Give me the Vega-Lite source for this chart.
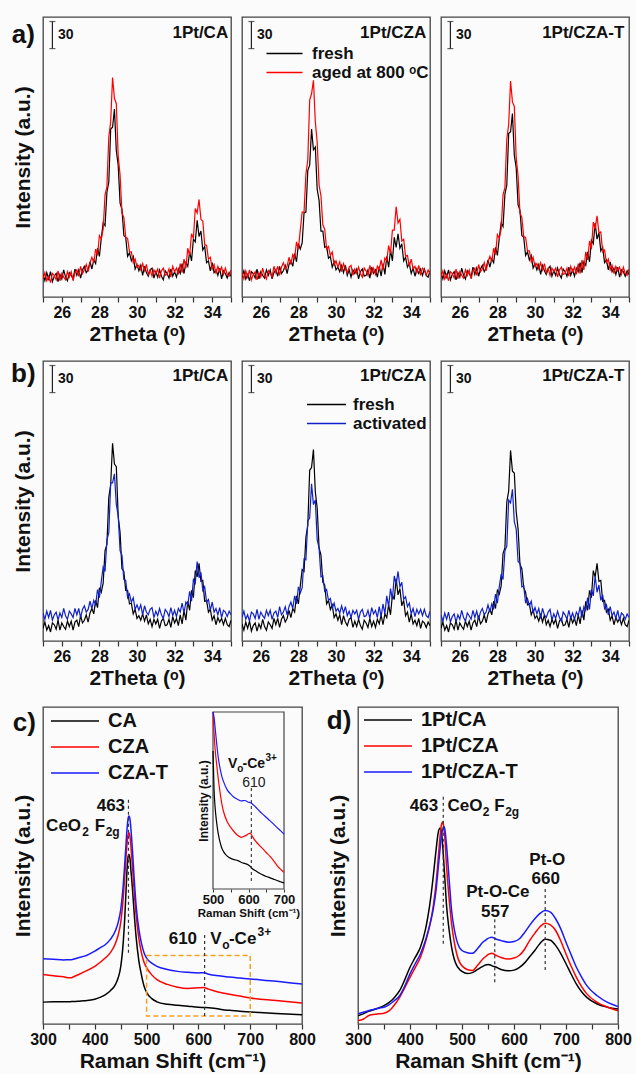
{
"$schema":"https://vega.github.io/schema/vega-lite/v6.json",
"background":"#fbfbfb",
"padding":{"left":10,"top":16,"right":4,"bottom":2},
"config":{"font":"Liberation Sans","view":{"stroke":"#444","strokeWidth":1.3},"axis":{"labelFontWeight":"bold","titleFontWeight":"bold","labelColor":"#111","titleColor":"#111","grid":false,"labelFont":"Liberation Sans","titleFont":"Liberation Sans"},"legend":{"labelFont":"Liberation Sans","padding":0}},
"datasets":{
"bar":[{"x":25.5,"y":275,"y2":305}],
"barcaps":[{"x":25.5,"y":275},{"x":25.5,"y":305}],
"barlabel":[{"x":25.8,"y":290,"t":"30"}],
"xrd":[
{"x":25,"a1k":25,"a1r":20,"a2k":22,"a2r":27,"a3k":27,"a3r":22,"b1k":14,"b1b":31,"b2k":19,"b2b":26,"b3k":14,"b3b":29},
{"x":25.1,"a1k":18,"a1r":27,"a2k":29,"a2r":20,"a3k":20,"a3r":29,"b1k":21,"b1b":24,"b2k":12,"b2b":33,"b3k":21,"b3b":22},
{"x":25.2,"a1k":27,"a1r":18,"a2k":20,"a2r":29,"a3k":29,"a3r":20,"b1k":12,"b1b":33,"b2k":21,"b2b":24,"b3k":12,"b3b":31},
{"x":25.3,"a1k":20,"a1r":23,"a2k":25,"a2r":22,"a3k":22,"a3r":25,"b1k":17,"b1b":26,"b2k":14,"b2b":29,"b3k":17,"b3b":24},
{"x":25.4,"a1k":28,"a1r":16,"a2k":18,"a2r":30,"a3k":30,"a3r":18,"b1k":10,"b1b":34,"b2k":22,"b2b":22,"b3k":10,"b3b":32},
{"x":25.5,"a1k":17,"a1r":26,"a2k":28,"a2r":19,"a3k":19,"a3r":28,"b1k":20,"b1b":23,"b2k":11,"b2b":32,"b3k":20,"b3b":21},
{"x":25.6,"a1k":23,"a1r":24,"a2k":26,"a2r":25,"a3k":25,"a3r":26,"b1k":18,"b1b":29,"b2k":17,"b2b":30,"b3k":18,"b3b":27},
{"x":25.7,"a1k":26,"a1r":19,"a2k":21,"a2r":28,"a3k":28,"a3r":21,"b1k":13,"b1b":32,"b2k":20,"b2b":25,"b3k":13,"b3b":30},
{"x":25.8,"a1k":17,"a1r":29,"a2k":31,"a2r":19,"a3k":19,"a3r":31,"b1k":23,"b1b":23,"b2k":11,"b2b":35,"b3k":23,"b3b":21},
{"x":25.9,"a1k":25,"a1r":18,"a2k":20,"a2r":27,"a3k":27,"a3r":20,"b1k":12,"b1b":31,"b2k":19,"b2b":24,"b3k":12,"b3b":29},
{"x":26,"a1k":20,"a1r":26,"a2k":28,"a2r":22,"a3k":22,"a3r":28,"b1k":20,"b1b":26,"b2k":14,"b2b":32,"b3k":20,"b3b":24},
{"x":26.1,"a1k":30,"a1r":22,"a2k":24,"a2r":32,"a3k":32,"a3r":24,"b1k":16,"b1b":36,"b2k":24,"b2b":28,"b3k":16,"b3b":34},
{"x":26.2,"a1k":22,"a1r":19,"a2k":21,"a2r":24,"a3k":24,"a3r":21,"b1k":13,"b1b":28,"b2k":16,"b2b":25,"b3k":13,"b3b":26},
{"x":26.3,"a1k":18,"a1r":28,"a2k":30,"a2r":20,"a3k":20,"a3r":30,"b1k":22,"b1b":24,"b2k":12,"b2b":34,"b3k":22,"b3b":22},
{"x":26.4,"a1k":27,"a1r":22,"a2k":24,"a2r":29,"a3k":29,"a3r":24,"b1k":16,"b1b":33,"b2k":21,"b2b":28,"b3k":16,"b3b":31},
{"x":26.5,"a1k":24,"a1r":28,"a2k":30,"a2r":26,"a3k":26,"a3r":30,"b1k":22,"b1b":30,"b2k":18,"b2b":34,"b3k":22,"b3b":28},
{"x":26.6,"a1k":20,"a1r":18,"a2k":20,"a2r":22,"a3k":22,"a3r":20,"b1k":12,"b1b":26,"b2k":14,"b2b":24,"b3k":12,"b3b":24},
{"x":26.7,"a1k":31,"a1r":27,"a2k":27,"a2r":34,"a3k":33,"a3r":29,"b1k":21,"b1b":36,"b2k":25,"b2b":31,"b3k":20,"b3b":34},
{"x":26.8,"a1k":24,"a1r":30,"a2k":30,"a2r":27,"a3k":25,"a3r":32,"b1k":23,"b1b":29,"b2k":18,"b2b":33,"b3k":23,"b3b":26},
{"x":26.9,"a1k":30,"a1r":23,"a2k":23,"a2r":34,"a3k":32,"a3r":24,"b1k":16,"b1b":36,"b2k":25,"b2b":26,"b3k":16,"b3b":33},
{"x":27,"a1k":21,"a1r":34,"a2k":34,"a2r":24,"a3k":23,"a3r":36,"b1k":28,"b1b":26,"b2k":15,"b2b":38,"b3k":28,"b3b":24},
{"x":27.1,"a1k":30,"a1r":26,"a2k":26,"a2r":33,"a3k":31,"a3r":28,"b1k":20,"b1b":35,"b2k":24,"b2b":29,"b3k":19,"b3b":32},
{"x":27.2,"a1k":34,"a1r":30,"a2k":29,"a2r":38,"a3k":35,"a3r":31,"b1k":23,"b1b":39,"b2k":28,"b2b":32,"b3k":22,"b3b":36},
{"x":27.3,"a1k":27,"a1r":36,"a2k":35,"a2r":31,"a3k":28,"a3r":38,"b1k":29,"b1b":32,"b2k":21,"b2b":38,"b3k":29,"b3b":29},
{"x":27.4,"a1k":30,"a1r":28,"a2k":26,"a2r":34,"a3k":32,"a3r":29,"b1k":21,"b1b":35,"b2k":25,"b2b":29,"b3k":20,"b3b":32},
{"x":27.5,"a1k":39,"a1r":38,"a2k":36,"a2r":44,"a3k":41,"a3r":39,"b1k":31,"b1b":44,"b2k":34,"b2b":38,"b3k":30,"b3b":40},
{"x":27.6,"a1k":31,"a1r":44,"a2k":40,"a2r":36,"a3k":33,"a3r":45,"b1k":36,"b1b":36,"b2k":26,"b2b":43,"b3k":35,"b3b":32},
{"x":27.7,"a1k":41,"a1r":38,"a2k":34,"a2r":47,"a3k":42,"a3r":39,"b1k":30,"b1b":45,"b2k":36,"b2b":36,"b3k":29,"b3b":41},
{"x":27.8,"a1k":37,"a1r":53,"a2k":48,"a2r":43,"a3k":38,"a3r":54,"b1k":45,"b1b":40,"b2k":32,"b2b":50,"b3k":44,"b3b":36},
{"x":27.9,"a1k":54,"a1r":46,"a2k":39,"a2r":61,"a3k":55,"a3r":47,"b1k":37,"b1b":57,"b2k":50,"b2b":41,"b3k":36,"b3b":52},
{"x":28,"a1k":45,"a1r":68,"a2k":59,"a2r":53,"a3k":46,"a3r":69,"b1k":59,"b1b":48,"b2k":41,"b2b":60,"b3k":57,"b3b":42},
{"x":28.1,"a1k":65,"a1r":64,"a2k":53,"a2r":74,"a3k":65,"a3r":65,"b1k":54,"b1b":66,"b2k":61,"b2b":53,"b3k":52,"b3b":60},
{"x":28.2,"a1k":82,"a1r":75,"a2k":60,"a2r":94,"a3k":82,"a3r":75,"b1k":64,"b1b":82,"b2k":79,"b2b":59,"b3k":61,"b3b":74},
{"x":28.3,"a1k":79,"a1r":113,"a2k":93,"a2r":94,"a3k":78,"a3r":113,"b1k":100,"b1b":77,"b2k":77,"b2b":91,"b3k":97,"b3b":68},
{"x":28.4,"a1k":116,"a1r":122,"a2k":94,"a2r":136,"a3k":114,"a3r":121,"b1k":107,"b1b":112,"b2k":115,"b2b":90,"b3k":103,"b3b":100},
{"x":28.5,"a1k":127,"a1r":177,"a2k":140,"a2r":152,"a3k":124,"a3r":175,"b1k":159,"b1b":120,"b2k":128,"b2b":133,"b3k":154,"b3b":105},
{"x":28.6,"a1k":186,"a1r":194,"a2k":146,"a2r":218,"a3k":181,"a3r":191,"b1k":173,"b1b":175,"b2k":189,"b2b":136,"b3k":166,"b3b":156},
{"x":28.7,"a1k":188,"a1r":243,"a2k":186,"a2r":225,"a3k":183,"a3r":239,"b1k":219,"b1b":175,"b2k":192,"b2b":174,"b3k":211,"b3b":153},
{"x":28.8,"a1k":208,"a1r":220,"a2k":163,"a2r":240,"a3k":203,"a3r":216,"b1k":196,"b1b":185,"b2k":212,"b2b":151,"b3k":188,"b3b":168},
{"x":28.9,"a1k":162,"a1r":214,"a2k":166,"a2r":194,"a3k":157,"a3r":211,"b1k":193,"b1b":151,"b2k":165,"b2b":156,"b3k":186,"b3b":132},
{"x":29,"a1k":146,"a1r":156,"a2k":119,"a2r":171,"a3k":143,"a3r":154,"b1k":138,"b1b":139,"b2k":147,"b2b":112,"b3k":143,"b3b":124},
{"x":29.1,"a1k":104,"a1r":135,"a2k":107,"a2r":124,"a3k":102,"a3r":134,"b1k":120,"b1b":100,"b2k":103,"b2b":103,"b3k":124,"b3b":88},
{"x":29.2,"a1k":97,"a1r":93,"a2k":73,"a2r":112,"a3k":96,"a3r":93,"b1k":80,"b1b":95,"b2k":95,"b2b":71,"b3k":85,"b3b":86},
{"x":29.3,"a1k":68,"a1r":88,"a2k":73,"a2r":80,"a3k":68,"a3r":88,"b1k":77,"b1b":68,"b2k":65,"b2b":72,"b3k":80,"b3b":60},
{"x":29.4,"a1k":66,"a1r":66,"a2k":55,"a2r":75,"a3k":66,"a3r":67,"b1k":56,"b1b":67,"b2k":62,"b2b":55,"b3k":59,"b3b":61},
{"x":29.5,"a1k":45,"a1r":65,"a2k":56,"a2r":53,"a3k":46,"a3r":66,"b1k":56,"b1b":48,"b2k":41,"b2b":57,"b3k":54,"b3b":42},
{"x":29.6,"a1k":49,"a1r":50,"a2k":43,"a2r":56,"a3k":50,"a3r":51,"b1k":41,"b1b":52,"b2k":45,"b2b":45,"b3k":40,"b3b":47},
{"x":29.7,"a1k":40,"a1r":50,"a2k":45,"a2r":46,"a3k":41,"a3r":51,"b1k":42,"b1b":43,"b2k":35,"b2b":47,"b3k":41,"b3b":39},
{"x":29.8,"a1k":45,"a1r":38,"a2k":33,"a2r":50,"a3k":46,"a3r":39,"b1k":30,"b1b":48,"b2k":40,"b2b":36,"b3k":29,"b3b":44},
{"x":29.9,"a1k":31,"a1r":42,"a2k":39,"a2r":36,"a3k":32,"a3r":44,"b1k":35,"b1b":35,"b2k":26,"b2b":42,"b3k":34,"b3b":31},
{"x":30,"a1k":36,"a1r":33,"a2k":30,"a2r":40,"a3k":37,"a3r":34,"b1k":25,"b1b":40,"b2k":30,"b2b":33,"b3k":25,"b3b":37},
{"x":30.1,"a1k":29,"a1r":35,"a2k":33,"a2r":33,"a3k":30,"a3r":37,"b1k":28,"b1b":34,"b2k":23,"b2b":36,"b3k":28,"b3b":30},
{"x":30.2,"a1k":35,"a1r":30,"a2k":28,"a2r":39,"a3k":36,"a3r":31,"b1k":23,"b1b":40,"b2k":29,"b2b":31,"b3k":22,"b3b":36},
{"x":30.3,"a1k":24,"a1r":37,"a2k":35,"a2r":28,"a3k":25,"a3r":38,"b1k":30,"b1b":29,"b2k":18,"b2b":39,"b3k":29,"b3b":25},
{"x":30.4,"a1k":34,"a1r":29,"a2k":27,"a2r":37,"a3k":35,"a3r":30,"b1k":22,"b1b":39,"b2k":28,"b2b":31,"b3k":21,"b3b":36},
{"x":30.5,"a1k":27,"a1r":36,"a2k":35,"a2r":31,"a3k":29,"a3r":37,"b1k":29,"b1b":32,"b2k":21,"b2b":38,"b3k":29,"b3b":29},
{"x":30.6,"a1k":23,"a1r":25,"a2k":24,"a2r":27,"a3k":25,"a3r":27,"b1k":19,"b1b":29,"b2k":17,"b2b":28,"b3k":18,"b3b":26},
{"x":30.7,"a1k":30,"a1r":30,"a2k":30,"a2r":33,"a3k":31,"a3r":32,"b1k":24,"b1b":35,"b2k":24,"b2b":33,"b3k":23,"b3b":32},
{"x":30.8,"a1k":32,"a1r":23,"a2k":22,"a2r":35,"a3k":34,"a3r":24,"b1k":16,"b1b":37,"b2k":26,"b2b":26,"b3k":16,"b3b":35},
{"x":30.9,"a1k":21,"a1r":30,"a2k":30,"a2r":24,"a3k":23,"a3r":32,"b1k":24,"b1b":26,"b2k":15,"b2b":34,"b3k":24,"b3b":23},
{"x":31,"a1k":28,"a1r":26,"a2k":26,"a2r":31,"a3k":29,"a3r":28,"b1k":19,"b1b":33,"b2k":22,"b2b":30,"b3k":19,"b3b":30},
{"x":31.1,"a1k":22,"a1r":31,"a2k":31,"a2r":26,"a3k":24,"a3r":32,"b1k":24,"b1b":28,"b2k":16,"b2b":34,"b3k":24,"b3b":25},
{"x":31.2,"a1k":30,"a1r":21,"a2k":20,"a2r":33,"a3k":32,"a3r":22,"b1k":14,"b1b":36,"b2k":24,"b2b":24,"b3k":14,"b3b":33},
{"x":31.3,"a1k":23,"a1r":29,"a2k":28,"a2r":26,"a3k":25,"a3r":30,"b1k":22,"b1b":29,"b2k":17,"b2b":32,"b3k":22,"b3b":26},
{"x":31.4,"a1k":19,"a1r":32,"a2k":31,"a2r":22,"a3k":21,"a3r":33,"b1k":25,"b1b":25,"b2k":13,"b2b":35,"b3k":25,"b3b":22},
{"x":31.5,"a1k":29,"a1r":24,"a2k":23,"a2r":32,"a3k":31,"a3r":25,"b1k":17,"b1b":35,"b2k":23,"b2b":27,"b3k":17,"b3b":32},
{"x":31.6,"a1k":26,"a1r":25,"a2k":24,"a2r":29,"a3k":28,"a3r":26,"b1k":18,"b1b":32,"b2k":20,"b2b":28,"b3k":18,"b3b":29},
{"x":31.7,"a1k":21,"a1r":31,"a2k":30,"a2r":24,"a3k":23,"a3r":32,"b1k":24,"b1b":27,"b2k":15,"b2b":34,"b3k":24,"b3b":24},
{"x":31.8,"a1k":31,"a1r":22,"a2k":21,"a2r":35,"a3k":33,"a3r":23,"b1k":15,"b1b":37,"b2k":25,"b2b":25,"b3k":15,"b3b":34},
{"x":31.9,"a1k":23,"a1r":34,"a2k":33,"a2r":26,"a3k":24,"a3r":34,"b1k":27,"b1b":28,"b2k":16,"b2b":37,"b3k":27,"b3b":25},
{"x":32,"a1k":28,"a1r":28,"a2k":26,"a2r":32,"a3k":30,"a3r":28,"b1k":20,"b1b":34,"b2k":22,"b2b":30,"b3k":20,"b3b":31},
{"x":32.1,"a1k":22,"a1r":32,"a2k":30,"a2r":25,"a3k":23,"a3r":33,"b1k":25,"b1b":27,"b2k":15,"b2b":34,"b3k":25,"b3b":24},
{"x":32.2,"a1k":31,"a1r":25,"a2k":22,"a2r":34,"a3k":32,"a3r":25,"b1k":17,"b1b":36,"b2k":24,"b2b":26,"b3k":17,"b3b":32},
{"x":32.3,"a1k":26,"a1r":37,"a2k":34,"a2r":30,"a3k":28,"a3r":37,"b1k":29,"b1b":32,"b2k":19,"b2b":38,"b3k":29,"b3b":28},
{"x":32.4,"a1k":37,"a1r":27,"a2k":23,"a2r":41,"a3k":38,"a3r":26,"b1k":19,"b1b":42,"b2k":29,"b2b":27,"b3k":19,"b3b":38},
{"x":32.5,"a1k":26,"a1r":42,"a2k":37,"a2r":30,"a3k":27,"a3r":41,"b1k":34,"b1b":31,"b2k":18,"b2b":41,"b3k":34,"b3b":26},
{"x":32.6,"a1k":38,"a1r":32,"a2k":25,"a2r":43,"a3k":39,"a3r":30,"b1k":23,"b1b":43,"b2k":30,"b2b":30,"b3k":23,"b3b":38},
{"x":32.7,"a1k":34,"a1r":54,"a2k":45,"a2r":40,"a3k":35,"a3r":50,"b1k":44,"b1b":40,"b2k":26,"b2b":50,"b3k":44,"b3b":34},
{"x":32.8,"a1k":50,"a1r":46,"a2k":33,"a2r":57,"a3k":50,"a3r":41,"b1k":34,"b1b":55,"b2k":40,"b2b":38,"b3k":34,"b3b":48},
{"x":32.9,"a1k":40,"a1r":70,"a2k":52,"a2r":48,"a3k":39,"a3r":62,"b1k":56,"b1b":44,"b2k":29,"b2b":58,"b3k":56,"b3b":35},
{"x":33,"a1k":64,"a1r":65,"a2k":40,"a2r":74,"a3k":63,"a3r":53,"b1k":48,"b1b":68,"b2k":51,"b2b":46,"b3k":48,"b3b":57},
{"x":33.1,"a1k":61,"a1r":98,"a2k":66,"a2r":74,"a3k":59,"a3r":83,"b1k":78,"b1b":64,"b2k":46,"b2b":72,"b3k":78,"b3b":50},
{"x":33.2,"a1k":85,"a1r":93,"a2k":55,"a2r":100,"a3k":82,"a3r":75,"b1k":71,"b1b":88,"b2k":69,"b2b":62,"b3k":71,"b3b":72},
{"x":33.3,"a1k":67,"a1r":108,"a2k":70,"a2r":82,"a3k":64,"a3r":90,"b1k":86,"b1b":70,"b2k":51,"b2b":77,"b3k":86,"b3b":54},
{"x":33.4,"a1k":73,"a1r":86,"a2k":54,"a2r":86,"a3k":71,"a3r":71,"b1k":66,"b1b":76,"b2k":58,"b2b":60,"b3k":66,"b3b":62},
{"x":33.5,"a1k":52,"a1r":84,"a2k":59,"a2r":62,"a3k":51,"a3r":72,"b1k":67,"b1b":56,"b2k":39,"b2b":65,"b3k":67,"b3b":45},
{"x":33.6,"a1k":56,"a1r":58,"a2k":40,"a2r":64,"a3k":55,"a3r":50,"b1k":44,"b1b":60,"b2k":45,"b2b":46,"b3k":44,"b3b":51},
{"x":33.7,"a1k":38,"a1r":57,"a2k":44,"a2r":45,"a3k":38,"a3r":52,"b1k":45,"b1b":43,"b2k":28,"b2b":49,"b3k":45,"b3b":36},
{"x":33.8,"a1k":40,"a1r":42,"a2k":33,"a2r":46,"a3k":41,"a3r":38,"b1k":32,"b1b":46,"b2k":32,"b2b":38,"b3k":32,"b3b":40},
{"x":33.9,"a1k":29,"a1r":44,"a2k":37,"a2r":34,"a3k":30,"a3r":42,"b1k":35,"b1b":34,"b2k":21,"b2b":42,"b3k":35,"b3b":29},
{"x":34,"a1k":38,"a1r":31,"a2k":26,"a2r":42,"a3k":39,"a3r":30,"b1k":23,"b1b":43,"b2k":30,"b2b":30,"b3k":23,"b3b":38},
{"x":34.1,"a1k":27,"a1r":36,"a2k":32,"a2r":31,"a3k":28,"a3r":35,"b1k":28,"b1b":32,"b2k":19,"b2b":36,"b3k":28,"b3b":28},
{"x":34.2,"a1k":30,"a1r":26,"a2k":23,"a2r":34,"a3k":32,"a3r":26,"b1k":18,"b1b":36,"b2k":23,"b2b":27,"b3k":18,"b3b":32},
{"x":34.3,"a1k":24,"a1r":34,"a2k":31,"a2r":27,"a3k":25,"a3r":34,"b1k":26,"b1b":29,"b2k":17,"b2b":35,"b3k":26,"b3b":25},
{"x":34.4,"a1k":32,"a1r":28,"a2k":26,"a2r":35,"a3k":33,"a3r":29,"b1k":21,"b1b":37,"b2k":25,"b2b":30,"b3k":21,"b3b":34},
{"x":34.5,"a1k":20,"a1r":33,"a2k":31,"a2r":24,"a3k":22,"a3r":33,"b1k":25,"b1b":26,"b2k":14,"b2b":35,"b3k":25,"b3b":23},
{"x":34.6,"a1k":29,"a1r":25,"a2k":24,"a2r":32,"a3k":30,"a3r":25,"b1k":18,"b1b":34,"b2k":22,"b2b":28,"b3k":18,"b3b":31},
{"x":34.7,"a1k":26,"a1r":32,"a2k":31,"a2r":30,"a3k":28,"a3r":33,"b1k":25,"b1b":32,"b2k":20,"b2b":35,"b3k":25,"b3b":29},
{"x":34.8,"a1k":21,"a1r":25,"a2k":24,"a2r":24,"a3k":23,"a3r":26,"b1k":18,"b1b":27,"b2k":15,"b2b":28,"b3k":18,"b3b":24},
{"x":34.9,"a1k":27,"a1r":23,"a2k":22,"a2r":30,"a3k":29,"a3r":24,"b1k":16,"b1b":33,"b2k":21,"b2b":26,"b3k":16,"b3b":30},
{"x":35,"a1k":23,"a1r":30,"a2k":29,"a2r":26,"a3k":25,"a3r":31,"b1k":23,"b1b":29,"b2k":17,"b2b":33,"b3k":23,"b3b":26}
],
"ramanC":[
{"x":300,"CA":6.9,"CZA":15.6,"CZA-T":20.6},{"x":320,"CA":7,"CZA":15.2,"CZA-T":20.4},{"x":340,"CA":7,"CZA":14.9,"CZA-T":20.2},{"x":350,"CA":7,"CZA":14.6,"CZA-T":20.3},{"x":355,"CA":7.1,"CZA":14.6,"CZA-T":20.3},{"x":360,"CA":7.1,"CZA":15,"CZA-T":20.5},{"x":370,"CA":7.2,"CZA":15.7,"CZA-T":21},{"x":380,"CA":7.3,"CZA":16.5,"CZA-T":21.4},{"x":400,"CA":7.8,"CZA":18.2,"CZA-T":23},{"x":410,"CA":8.4,"CZA":19.4,"CZA-T":24},{"x":420,"CA":9.2,"CZA":20.8,"CZA-T":25},{"x":430,"CA":10.5,"CZA":22.5,"CZA-T":26.7},{"x":440,"CA":12.5,"CZA":25.5,"CZA-T":29.5},{"x":445,"CA":14.5,"CZA":28,"CZA-T":32},{"x":450,"CA":18,"CZA":32,"CZA-T":36},{"x":455,"CA":26,"CZA":40,"CZA-T":44},{"x":458,"CA":34,"CZA":47,"CZA-T":51},{"x":460,"CA":41,"CZA":52,"CZA-T":56},{"x":462,"CA":48,"CZA":56.5,"CZA-T":61},{"x":464,"CA":52.5,"CZA":59.5,"CZA-T":64.5},{"x":466,"CA":53.5,"CZA":60.3,"CZA-T":65.6},{"x":468,"CA":52,"CZA":59,"CZA-T":64.5},{"x":470,"CA":48,"CZA":55.5,"CZA-T":61},{"x":473,"CA":42,"CZA":49,"CZA-T":54},{"x":476,"CA":35,"CZA":42,"CZA-T":46},{"x":480,"CA":27,"CZA":34,"CZA-T":37},{"x":485,"CA":20,"CZA":27,"CZA-T":30},{"x":490,"CA":15.5,"CZA":22.5,"CZA-T":25.5},{"x":495,"CA":12,"CZA":19.5,"CZA-T":22.5},{"x":500,"CA":10,"CZA":17.8,"CZA-T":20.8},{"x":510,"CA":8,"CZA":15.5,"CZA-T":19.2},{"x":520,"CA":7,"CZA":14,"CZA-T":18.2},{"x":540,"CA":6.2,"CZA":12.5,"CZA-T":17.2},{"x":560,"CA":5.9,"CZA":11.6,"CZA-T":16.6},{"x":580,"CA":5.6,"CZA":11.2,"CZA-T":16.3},{"x":600,"CA":5.3,"CZA":11.4,"CZA-T":16.1},{"x":610,"CA":5.2,"CZA":11.5,"CZA-T":16.2},{"x":620,"CA":5.1,"CZA":11,"CZA-T":15.7},{"x":640,"CA":4.7,"CZA":10,"CZA-T":15.2},{"x":650,"CA":4.4,"CZA":9.7,"CZA-T":15},{"x":660,"CA":4.3,"CZA":9.4,"CZA-T":14.8},{"x":680,"CA":4,"CZA":8.8,"CZA-T":14.5},{"x":700,"CA":3.8,"CZA":8.2,"CZA-T":14.2},{"x":750,"CA":3.3,"CZA":7.4,"CZA-T":13.5},{"x":800,"CA":2.9,"CZA":6.6,"CZA-T":12.6}
],
"inset":[
{"x":500,"CA":78,"CZA":100,"CZA-T":100},{"x":503,"CA":56,"CZA":88,"CZA-T":97},{"x":506,"CA":46,"CZA":79,"CZA-T":91},{"x":510,"CA":38,"CZA":71,"CZA-T":83},{"x":515,"CA":31,"CZA":62,"CZA-T":74},{"x":520,"CA":26.3,"CZA":54.5,"CZA-T":68},{"x":525,"CA":23,"CZA":48,"CZA-T":63.5},{"x":530,"CA":21,"CZA":43.5,"CZA-T":60.5},{"x":540,"CA":18.6,"CZA":38,"CZA-T":56},{"x":550,"CA":17.3,"CZA":34.8,"CZA-T":53.6},{"x":560,"CA":16.6,"CZA":32.2,"CZA-T":51.7},{"x":570,"CA":16,"CZA":30.2,"CZA-T":50.6},{"x":580,"CA":15,"CZA":29.2,"CZA-T":49.8},{"x":590,"CA":14.4,"CZA":30,"CZA-T":50},{"x":600,"CA":13.6,"CZA":31.2,"CZA-T":49},{"x":605,"CA":12.8,"CZA":31.6,"CZA-T":48.8},{"x":610,"CA":11.6,"CZA":30,"CZA-T":48.2},{"x":620,"CA":10.3,"CZA":27,"CZA-T":46.3},{"x":630,"CA":9,"CZA":24.8,"CZA-T":44.2},{"x":640,"CA":8,"CZA":22.8,"CZA-T":42.3},{"x":650,"CA":7.1,"CZA":20.6,"CZA-T":40.5},{"x":660,"CA":6.4,"CZA":18.6,"CZA-T":38.6},{"x":670,"CA":5.6,"CZA":16.2,"CZA-T":36.8},{"x":680,"CA":4.8,"CZA":13.4,"CZA-T":34.8},{"x":690,"CA":4.1,"CZA":11.2,"CZA-T":33},{"x":700,"CA":3.4,"CZA":9.4,"CZA-T":31}
],
"ramanD":[
{"x":300,"1Pt/CA":2.6,"1Pt/CZA":1.1,"1Pt/CZA-T":3.2},{"x":310,"1Pt/CA":3.2,"1Pt/CZA":1.5,"1Pt/CZA-T":3.7},{"x":320,"1Pt/CA":4,"1Pt/CZA":2.6,"1Pt/CZA-T":4.2},{"x":330,"1Pt/CA":4.5,"1Pt/CZA":3,"1Pt/CZA-T":4.6},{"x":335,"1Pt/CA":4.8,"1Pt/CZA":3.1,"1Pt/CZA-T":4.8},{"x":340,"1Pt/CA":5.1,"1Pt/CZA":3.2,"1Pt/CZA-T":5},{"x":350,"1Pt/CA":5.8,"1Pt/CZA":3.4,"1Pt/CZA-T":5.3},{"x":360,"1Pt/CA":6.8,"1Pt/CZA":4.2,"1Pt/CZA-T":6.1},{"x":365,"1Pt/CA":7.5,"1Pt/CZA":5,"1Pt/CZA-T":6.7},{"x":370,"1Pt/CA":8.4,"1Pt/CZA":6,"1Pt/CZA-T":7.4},{"x":380,"1Pt/CA":10.5,"1Pt/CZA":8.4,"1Pt/CZA-T":8.9},{"x":390,"1Pt/CA":14,"1Pt/CZA":11.5,"1Pt/CZA-T":12},{"x":400,"1Pt/CA":17.9,"1Pt/CZA":14.7,"1Pt/CZA-T":15.8},{"x":410,"1Pt/CA":21,"1Pt/CZA":17.8,"1Pt/CZA-T":19},{"x":420,"1Pt/CA":24.2,"1Pt/CZA":21,"1Pt/CZA-T":22.1},{"x":430,"1Pt/CA":30,"1Pt/CZA":26,"1Pt/CZA-T":26.5},{"x":440,"1Pt/CA":40,"1Pt/CZA":32.6,"1Pt/CZA-T":32.6},{"x":445,"1Pt/CA":47,"1Pt/CZA":37.5,"1Pt/CZA-T":36.5},{"x":450,"1Pt/CA":54.7,"1Pt/CZA":44.2,"1Pt/CZA-T":42.1},{"x":455,"1Pt/CA":61,"1Pt/CZA":53.7,"1Pt/CZA-T":50.5},{"x":458,"1Pt/CA":61.8,"1Pt/CZA":59.5,"1Pt/CZA-T":55.5},{"x":460,"1Pt/CA":61,"1Pt/CZA":62.5,"1Pt/CZA-T":58.9},{"x":463,"1Pt/CA":56,"1Pt/CZA":63.7,"1Pt/CZA-T":61.5},{"x":465,"1Pt/CA":51,"1Pt/CZA":62,"1Pt/CZA-T":62.3},{"x":467,"1Pt/CA":46,"1Pt/CZA":58.9,"1Pt/CZA-T":61.5},{"x":470,"1Pt/CA":37.9,"1Pt/CZA":50.5,"1Pt/CZA-T":56.8},{"x":475,"1Pt/CA":30,"1Pt/CZA":40,"1Pt/CZA-T":46.3},{"x":480,"1Pt/CA":24.2,"1Pt/CZA":31.6,"1Pt/CZA-T":35.8},{"x":485,"1Pt/CA":20.5,"1Pt/CZA":26,"1Pt/CZA-T":30},{"x":490,"1Pt/CA":18.4,"1Pt/CZA":22,"1Pt/CZA-T":26.3},{"x":495,"1Pt/CA":17.3,"1Pt/CZA":19.6,"1Pt/CZA-T":24.2},{"x":500,"1Pt/CA":16.6,"1Pt/CZA":18.4,"1Pt/CZA-T":23.2},{"x":510,"1Pt/CA":15.9,"1Pt/CZA":17.2,"1Pt/CZA-T":22.5},{"x":520,"1Pt/CA":16.2,"1Pt/CZA":16.9,"1Pt/CZA-T":22.3},{"x":530,"1Pt/CA":17.2,"1Pt/CZA":18.5,"1Pt/CZA-T":23.8},{"x":540,"1Pt/CA":18.2,"1Pt/CZA":20.5,"1Pt/CZA-T":25.8},{"x":545,"1Pt/CA":18.6,"1Pt/CZA":21.2,"1Pt/CZA-T":26.4},{"x":550,"1Pt/CA":18.8,"1Pt/CZA":21.9,"1Pt/CZA-T":27},{"x":555,"1Pt/CA":18.6,"1Pt/CZA":22.2,"1Pt/CZA-T":27.3},{"x":557,"1Pt/CA":18.4,"1Pt/CZA":22.3,"1Pt/CZA-T":27.4},{"x":565,"1Pt/CA":18,"1Pt/CZA":21.7,"1Pt/CZA-T":26.8},{"x":575,"1Pt/CA":17.2,"1Pt/CZA":21,"1Pt/CZA-T":26.3},{"x":590,"1Pt/CA":16.8,"1Pt/CZA":20.5,"1Pt/CZA-T":25.8},{"x":600,"1Pt/CA":17,"1Pt/CZA":20.8,"1Pt/CZA-T":26},{"x":610,"1Pt/CA":17.8,"1Pt/CZA":21.6,"1Pt/CZA-T":26.8},{"x":620,"1Pt/CA":19.2,"1Pt/CZA":23.5,"1Pt/CZA-T":28.8},{"x":630,"1Pt/CA":21.2,"1Pt/CZA":26.3,"1Pt/CZA-T":31.1},{"x":640,"1Pt/CA":23.2,"1Pt/CZA":28.6,"1Pt/CZA-T":33.2},{"x":650,"1Pt/CA":25.4,"1Pt/CZA":30.7,"1Pt/CZA-T":34.9},{"x":660,"1Pt/CA":26.7,"1Pt/CZA":31.8,"1Pt/CZA-T":35.8},{"x":670,"1Pt/CA":26.4,"1Pt/CZA":31.3,"1Pt/CZA-T":35.3},{"x":680,"1Pt/CA":24.8,"1Pt/CZA":29.5,"1Pt/CZA-T":33.2},{"x":690,"1Pt/CA":22.2,"1Pt/CZA":26.2,"1Pt/CZA-T":30},{"x":700,"1Pt/CA":19,"1Pt/CZA":22.1,"1Pt/CZA-T":25.8},{"x":710,"1Pt/CA":15.7,"1Pt/CZA":18.2,"1Pt/CZA-T":21.8},{"x":720,"1Pt/CA":12.6,"1Pt/CZA":14.7,"1Pt/CZA-T":17.9},{"x":730,"1Pt/CA":10.2,"1Pt/CZA":11.8,"1Pt/CZA-T":14.8},{"x":740,"1Pt/CA":8.4,"1Pt/CZA":9.5,"1Pt/CZA-T":12.1},{"x":760,"1Pt/CA":6.3,"1Pt/CZA":6.8,"1Pt/CZA-T":8.9},{"x":780,"1Pt/CA":5.3,"1Pt/CZA":5.3,"1Pt/CZA-T":6.8},{"x":800,"1Pt/CA":4.7,"1Pt/CZA":4.2,"1Pt/CZA-T":5.5}
]
},
"vconcat":[
{"vconcat":[
{"hconcat":[
{"width":188,"height":280,
"encoding":{"x":{"field":"x","type":"quantitative","scale":{"domain":[25,35],"nice":false,"zero":false},"axis":{"title":"2Theta (ᵒ)","values":[25,26,27,28,29,30,31,32,33,34,35],"labelExpr":"datum.value % 2 == 0 ? datum.label : ''","labelFontSize":16,"labelOverlap":false,"labelFlush":false,"labelPadding":2,"tickSize":5,"tickWidth":1.2,"tickColor":"#333","domain":false,"titleFontSize":21,"titlePadding":3}},
"y":{"field":"y","type":"quantitative","scale":{"domain":[0,310],"nice":false,"zero":false},"axis":{"title":"Intensity (a.u.)","labels":false,"ticks":false,"domain":false,"titleFontSize":21,"titlePadding":10}}},
"layer":[
{"data":{"name":"xrd"},"transform":[{"fold":["a1k","a1r"],"as":["s","y"]}],"mark":{"type":"line","strokeWidth":1.2,"clip":true},"encoding":{"color":{"field":"s","type":"nominal","scale":{"domain":["a1k","a1r"],"range":["#000000","#ff0000"]},"legend":null}}},
{"data":{"name":"bar"},"mark":{"type":"rule","color":"#222","strokeWidth":1.2},"encoding":{"y2":{"field":"y2"}}},
{"data":{"name":"barcaps"},"mark":{"type":"tick","orient":"horizontal","size":6,"thickness":1.2,"color":"#222"}},
{"data":{"name":"barlabel"},"mark":{"type":"text","align":"left","baseline":"middle","fontSize":14,"fontWeight":"bold","color":"#111"},"encoding":{"text":{"field":"t"}}},
{"data":{"values":[{"x":34.85,"y":292,"t":"1Pt/CA"}]},"mark":{"type":"text","align":"right","baseline":"middle","fontSize":17,"fontWeight":"bold","color":"#111"},"encoding":{"text":{"field":"t"}}},
{"data":{"values":[{"x":23.95,"y":290,"t":"a)"}]},"mark":{"type":"text","align":"center","baseline":"middle","fontSize":26,"fontWeight":"bold","color":"#111"},"encoding":{"text":{"field":"t"}}}
]},
{"width":188,"height":280,
"encoding":{"x":{"field":"x","type":"quantitative","scale":{"domain":[25,35],"nice":false,"zero":false},"axis":{"title":"2Theta (ᵒ)","values":[25,26,27,28,29,30,31,32,33,34,35],"labelExpr":"datum.value % 2 == 0 ? datum.label : ''","labelFontSize":16,"labelOverlap":false,"labelFlush":false,"labelPadding":2,"tickSize":5,"tickWidth":1.2,"tickColor":"#333","domain":false,"titleFontSize":21,"titlePadding":3}},
"y":{"field":"y","type":"quantitative","scale":{"domain":[0,310],"nice":false,"zero":false},"axis":null}},
"layer":[
{"data":{"name":"xrd"},"transform":[{"fold":["a2k","a2r"],"as":["s","y"]}],"mark":{"type":"line","strokeWidth":1.2,"clip":true},"encoding":{"color":{"field":"s","type":"nominal","scale":{"domain":["a2k","a2r"],"range":["#000000","#ff0000"]},"legend":{"orient":"none","legendX":34,"legendY":28,"title":null,"symbolType":"M-3,0H3","symbolSize":144,"symbolStrokeWidth":1.5,"labelFontSize":17,"labelFontWeight":"bold","labelColor":"#111","labelOffset":19,"rowPadding":1,"labelExpr":"datum.value == 'a2k' ? 'fresh' : 'aged at 800 ᵒC'"}}}},
{"data":{"name":"bar"},"mark":{"type":"rule","color":"#222","strokeWidth":1.2},"encoding":{"y2":{"field":"y2"}}},
{"data":{"name":"barcaps"},"mark":{"type":"tick","orient":"horizontal","size":6,"thickness":1.2,"color":"#222"}},
{"data":{"name":"barlabel"},"mark":{"type":"text","align":"left","baseline":"middle","fontSize":14,"fontWeight":"bold","color":"#111"},"encoding":{"text":{"field":"t"}}},
{"data":{"values":[{"x":34.8,"y":292,"t":"1Pt/CZA"}]},"mark":{"type":"text","align":"right","baseline":"middle","fontSize":17,"fontWeight":"bold","color":"#111"},"encoding":{"text":{"field":"t"}}}
]},
{"width":188,"height":280,
"encoding":{"x":{"field":"x","type":"quantitative","scale":{"domain":[25,35],"nice":false,"zero":false},"axis":{"title":"2Theta (ᵒ)","values":[25,26,27,28,29,30,31,32,33,34,35],"labelExpr":"datum.value % 2 == 0 ? datum.label : ''","labelFontSize":16,"labelOverlap":false,"labelFlush":false,"labelPadding":2,"tickSize":5,"tickWidth":1.2,"tickColor":"#333","domain":false,"titleFontSize":21,"titlePadding":3}},
"y":{"field":"y","type":"quantitative","scale":{"domain":[0,310],"nice":false,"zero":false},"axis":null}},
"layer":[
{"data":{"name":"xrd"},"transform":[{"fold":["a3k","a3r"],"as":["s","y"]}],"mark":{"type":"line","strokeWidth":1.2,"clip":true},"encoding":{"color":{"field":"s","type":"nominal","scale":{"domain":["a3k","a3r"],"range":["#000000","#ff0000"]},"legend":null}}},
{"data":{"name":"bar"},"mark":{"type":"rule","color":"#222","strokeWidth":1.2},"encoding":{"y2":{"field":"y2"}}},
{"data":{"name":"barcaps"},"mark":{"type":"tick","orient":"horizontal","size":6,"thickness":1.2,"color":"#222"}},
{"data":{"name":"barlabel"},"mark":{"type":"text","align":"left","baseline":"middle","fontSize":14,"fontWeight":"bold","color":"#111"},"encoding":{"text":{"field":"t"}}},
{"data":{"values":[{"x":34.75,"y":292,"t":"1Pt/CZA-T"}]},"mark":{"type":"text","align":"right","baseline":"middle","fontSize":17,"fontWeight":"bold","color":"#111"},"encoding":{"text":{"field":"t"}}}
]}
],"spacing":7,"resolve":{"scale":{"color":"independent"},"legend":{"color":"independent"}}},
{"hconcat":[
{"width":188,"height":280,
"encoding":{"x":{"field":"x","type":"quantitative","scale":{"domain":[25,35],"nice":false,"zero":false},"axis":{"title":"2Theta (ᵒ)","values":[25,26,27,28,29,30,31,32,33,34,35],"labelExpr":"datum.value % 2 == 0 ? datum.label : ''","labelFontSize":16,"labelOverlap":false,"labelFlush":false,"labelPadding":2,"tickSize":5,"tickWidth":1.2,"tickColor":"#333","domain":false,"titleFontSize":21,"titlePadding":3}},
"y":{"field":"y","type":"quantitative","scale":{"domain":[0,310],"nice":false,"zero":false},"axis":{"title":"Intensity (a.u.)","labels":false,"ticks":false,"domain":false,"titleFontSize":21,"titlePadding":10}}},
"layer":[
{"data":{"name":"xrd"},"transform":[{"fold":["b1k","b1b"],"as":["s","y"]}],"mark":{"type":"line","strokeWidth":1.2,"clip":true},"encoding":{"color":{"field":"s","type":"nominal","scale":{"domain":["b1k","b1b"],"range":["#000000","#1020c8"]},"legend":null}}},
{"data":{"name":"bar"},"mark":{"type":"rule","color":"#222","strokeWidth":1.2},"encoding":{"y2":{"field":"y2"}}},
{"data":{"name":"barcaps"},"mark":{"type":"tick","orient":"horizontal","size":6,"thickness":1.2,"color":"#222"}},
{"data":{"name":"barlabel"},"mark":{"type":"text","align":"left","baseline":"middle","fontSize":14,"fontWeight":"bold","color":"#111"},"encoding":{"text":{"field":"t"}}},
{"data":{"values":[{"x":34.85,"y":293,"t":"1Pt/CA"}]},"mark":{"type":"text","align":"right","baseline":"middle","fontSize":17,"fontWeight":"bold","color":"#111"},"encoding":{"text":{"field":"t"}}},
{"data":{"values":[{"x":23.95,"y":296,"t":"b)"}]},"mark":{"type":"text","align":"center","baseline":"middle","fontSize":26,"fontWeight":"bold","color":"#111"},"encoding":{"text":{"field":"t"}}}
]},
{"width":188,"height":280,
"encoding":{"x":{"field":"x","type":"quantitative","scale":{"domain":[25,35],"nice":false,"zero":false},"axis":{"title":"2Theta (ᵒ)","values":[25,26,27,28,29,30,31,32,33,34,35],"labelExpr":"datum.value % 2 == 0 ? datum.label : ''","labelFontSize":16,"labelOverlap":false,"labelFlush":false,"labelPadding":2,"tickSize":5,"tickWidth":1.2,"tickColor":"#333","domain":false,"titleFontSize":21,"titlePadding":3}},
"y":{"field":"y","type":"quantitative","scale":{"domain":[0,310],"nice":false,"zero":false},"axis":null}},
"layer":[
{"data":{"name":"xrd"},"transform":[{"fold":["b2k","b2b"],"as":["s","y"]}],"mark":{"type":"line","strokeWidth":1.2,"clip":true},"encoding":{"color":{"field":"s","type":"nominal","scale":{"domain":["b2k","b2b"],"range":["#000000","#1020c8"]},"legend":{"orient":"none","legendX":76,"legendY":35,"title":null,"symbolType":"M-3,0H3","symbolSize":169,"symbolStrokeWidth":1.5,"labelFontSize":17,"labelFontWeight":"bold","labelColor":"#111","labelOffset":18,"rowPadding":1,"labelExpr":"datum.value == 'b2k' ? 'fresh' : 'activated'"}}}},
{"data":{"name":"bar"},"mark":{"type":"rule","color":"#222","strokeWidth":1.2},"encoding":{"y2":{"field":"y2"}}},
{"data":{"name":"barcaps"},"mark":{"type":"tick","orient":"horizontal","size":6,"thickness":1.2,"color":"#222"}},
{"data":{"name":"barlabel"},"mark":{"type":"text","align":"left","baseline":"middle","fontSize":14,"fontWeight":"bold","color":"#111"},"encoding":{"text":{"field":"t"}}},
{"data":{"values":[{"x":34.8,"y":293,"t":"1Pt/CZA"}]},"mark":{"type":"text","align":"right","baseline":"middle","fontSize":17,"fontWeight":"bold","color":"#111"},"encoding":{"text":{"field":"t"}}}
]},
{"width":188,"height":280,
"encoding":{"x":{"field":"x","type":"quantitative","scale":{"domain":[25,35],"nice":false,"zero":false},"axis":{"title":"2Theta (ᵒ)","values":[25,26,27,28,29,30,31,32,33,34,35],"labelExpr":"datum.value % 2 == 0 ? datum.label : ''","labelFontSize":16,"labelOverlap":false,"labelFlush":false,"labelPadding":2,"tickSize":5,"tickWidth":1.2,"tickColor":"#333","domain":false,"titleFontSize":21,"titlePadding":3}},
"y":{"field":"y","type":"quantitative","scale":{"domain":[0,310],"nice":false,"zero":false},"axis":null}},
"layer":[
{"data":{"name":"xrd"},"transform":[{"fold":["b3k","b3b"],"as":["s","y"]}],"mark":{"type":"line","strokeWidth":1.2,"clip":true},"encoding":{"color":{"field":"s","type":"nominal","scale":{"domain":["b3k","b3b"],"range":["#000000","#1020c8"]},"legend":null}}},
{"data":{"name":"bar"},"mark":{"type":"rule","color":"#222","strokeWidth":1.2},"encoding":{"y2":{"field":"y2"}}},
{"data":{"name":"barcaps"},"mark":{"type":"tick","orient":"horizontal","size":6,"thickness":1.2,"color":"#222"}},
{"data":{"name":"barlabel"},"mark":{"type":"text","align":"left","baseline":"middle","fontSize":14,"fontWeight":"bold","color":"#111"},"encoding":{"text":{"field":"t"}}},
{"data":{"values":[{"x":34.75,"y":293,"t":"1Pt/CZA-T"}]},"mark":{"type":"text","align":"right","baseline":"middle","fontSize":17,"fontWeight":"bold","color":"#111"},"encoding":{"text":{"field":"t"}}}
]}
],"spacing":7,"resolve":{"scale":{"color":"independent"},"legend":{"color":"independent"}}}
],"spacing":14,"resolve":{"scale":{"color":"independent"},"legend":{"color":"independent"}}},
{"hconcat":[
{"width":259,"height":317,
"layer":[
{"encoding":{"x":{"field":"x","type":"quantitative","scale":{"domain":[300,800],"nice":false,"zero":false},"axis":{"title":"Raman Shift (cm⁻¹)","values":[300,350,400,450,500,550,600,650,700,750,800],"labelExpr":"datum.value % 100 == 0 ? datum.label : ''","labelFontSize":16,"labelOverlap":false,"labelFlush":false,"labelPadding":2,"tickSize":5,"tickWidth":1.2,"tickColor":"#333","domain":false,"titleFontSize":21,"titlePadding":3}},
"y":{"field":"y","type":"quantitative","scale":{"domain":[0,100],"nice":false,"zero":false},"axis":{"title":"Intensity (a.u.)","labels":false,"ticks":false,"domain":false,"titleFontSize":21,"titlePadding":10}}},
"layer":[
{"data":{"name":"ramanC"},"transform":[{"fold":["CA","CZA","CZA-T"],"as":["s","y"]}],"mark":{"type":"line","strokeWidth":1.5,"clip":true,"interpolate":"monotone"},"encoding":{"color":{"field":"s","type":"nominal","scale":{"domain":["CA","CZA","CZA-T"],"range":["#000000","#ff0000","#1a1aff"]},"legend":{"orient":"none","legendX":22,"legendY":4,"title":null,"symbolType":"M-3,0H3","symbolSize":256,"symbolStrokeWidth":1.5,"labelFontSize":20,"labelFontWeight":"bold","labelColor":"#111","labelOffset":23,"rowPadding":6}}}},
{"data":{"values":[{"x":500,"x2":700,"y":2.5,"y2":21.6}]},"mark":{"type":"rect","fill":"#ffffff","fillOpacity":0,"stroke":"#f5a020","strokeWidth":1.5,"strokeDash":[5,3]},"encoding":{"x2":{"field":"x2"},"y2":{"field":"y2"}}},
{"data":{"values":[{"x":465,"y":22.5,"y2":70.9},{"x":612,"y":2.5,"y2":28.8}]},"mark":{"type":"rule","strokeDash":[3,3],"color":"#333","strokeWidth":1.2},"encoding":{"y2":{"field":"y2"}}},
{"data":{"values":[{"x":431,"y":68.8,"t":"463"},{"x":570,"y":26.9,"t":"610"}]},"mark":{"type":"text","align":"center","baseline":"middle","fontSize":17,"fontWeight":"bold","color":"#111"},"encoding":{"text":{"field":"t"}}},
{"data":{"values":[{"x":306,"y":62.5,"t":"CeO"},{"x":400,"y":62.5,"t":"F"},{"x":623,"y":26.9,"t":"V"},{"x":659,"y":26.9,"t":"-Ce"}]},"mark":{"type":"text","align":"left","baseline":"middle","fontSize":17,"fontWeight":"bold","color":"#111"},"encoding":{"text":{"field":"t"}}},
{"data":{"values":[{"x":376,"y":62.5,"t":"2"},{"x":421,"y":62.5,"t":"2g"},{"x":646,"y":26.9,"t":"o"}]},"mark":{"type":"text","align":"left","baseline":"middle","fontSize":12,"fontWeight":"bold","dy":6,"color":"#111"},"encoding":{"text":{"field":"t"}}},
{"data":{"values":[{"x":714,"y":26.9,"t":"3+"}]},"mark":{"type":"text","align":"left","baseline":"middle","fontSize":12,"fontWeight":"bold","dy":-7,"color":"#111"},"encoding":{"text":{"field":"t"}}},
{"data":{"values":[{"x":264,"y":95,"t":"c)"}]},"mark":{"type":"text","align":"center","baseline":"middle","fontSize":26,"fontWeight":"bold","color":"#111"},"encoding":{"text":{"field":"t"}}}
]},
{"encoding":{"x":{"field":"x","type":"quantitative","scale":{"domain":[500,700],"range":[170,241],"nice":false,"zero":false},"axis":{"orient":"bottom","offset":-135,"title":"Raman Shift (cm⁻¹)","values":[500,550,600,650,700],"labelExpr":"datum.value % 100 == 0 ? datum.label : ''","labelFontSize":13,"labelOverlap":false,"labelFlush":false,"labelPadding":1,"tickSize":3,"tickWidth":1,"tickColor":"#333","domain":false,"titleFontSize":11.5,"titlePadding":1}},
"y":{"field":"y","type":"quantitative","scale":{"domain":[0,100],"range":[182,5],"nice":false,"zero":false},"axis":{"orient":"left","offset":-170,"title":"Intensity (a.u.)","labels":false,"ticks":false,"domain":false,"titleFontSize":12,"titlePadding":3}}},
"layer":[
{"data":{"values":[{"x":500,"x2":700,"y":0,"y2":100}]},"mark":{"type":"rect","fill":"#fbfbfb","stroke":"#444","strokeWidth":1.2},"encoding":{"x2":{"field":"x2"},"y2":{"field":"y2"}}},
{"data":{"name":"inset"},"transform":[{"fold":["CA","CZA","CZA-T"],"as":["s","y"]}],"mark":{"type":"line","strokeWidth":1.2,"interpolate":"monotone"},"encoding":{"color":{"field":"s","type":"nominal","scale":{"domain":["CA","CZA","CZA-T"],"range":["#000000","#ff0000","#1a1aff"]},"legend":null}}},
{"data":{"values":[{"x":608,"y":4.5,"y2":57.2}]},"mark":{"type":"rule","strokeDash":[3,3],"color":"#333","strokeWidth":1.1},"encoding":{"y2":{"field":"y2"}}},
{"data":{"values":[{"x":615,"y":60,"t":"610"}]},"mark":{"type":"text","align":"center","baseline":"middle","fontSize":14,"color":"#222"},"encoding":{"text":{"field":"t"}}},
{"data":{"values":[{"x":542,"y":70.4,"t":"V"},{"x":583,"y":70.4,"t":"-Ce"}]},"mark":{"type":"text","align":"left","baseline":"middle","fontSize":14,"fontWeight":"bold","color":"#111"},"encoding":{"text":{"field":"t"}}},
{"data":{"values":[{"x":568,"y":70.4,"t":"o"}]},"mark":{"type":"text","align":"left","baseline":"middle","fontSize":10,"fontWeight":"bold","dy":5,"color":"#111"},"encoding":{"text":{"field":"t"}}},
{"data":{"values":[{"x":648,"y":70.4,"t":"3+"}]},"mark":{"type":"text","align":"left","baseline":"middle","fontSize":10,"fontWeight":"bold","dy":-6,"color":"#111"},"encoding":{"text":{"field":"t"}}}
]}
],
"resolve":{"scale":{"x":"independent","y":"independent","color":"independent"},"axis":{"x":"independent","y":"independent"},"legend":{"color":"independent"}}},
{"width":260,"height":317,
"encoding":{"x":{"field":"x","type":"quantitative","scale":{"domain":[300,800],"nice":false,"zero":false},"axis":{"title":"Raman Shift (cm⁻¹)","values":[300,350,400,450,500,550,600,650,700,750,800],"labelExpr":"datum.value % 100 == 0 ? datum.label : ''","labelFontSize":16,"labelOverlap":false,"labelFlush":false,"labelPadding":2,"tickSize":5,"tickWidth":1.2,"tickColor":"#333","domain":false,"titleFontSize":21,"titlePadding":3}},
"y":{"field":"y","type":"quantitative","scale":{"domain":[0,100],"nice":false,"zero":false},"axis":{"title":"Intensity (a.u.)","labels":false,"ticks":false,"domain":false,"titleFontSize":21,"titlePadding":10}}},
"layer":[
{"data":{"name":"ramanD"},"transform":[{"fold":["1Pt/CA","1Pt/CZA","1Pt/CZA-T"],"as":["s","y"]}],"mark":{"type":"line","strokeWidth":1.5,"clip":true,"interpolate":"monotone"},"encoding":{"color":{"field":"s","type":"nominal","scale":{"domain":["1Pt/CA","1Pt/CZA","1Pt/CZA-T"],"range":["#000000","#ff0000","#1a1aff"]},"legend":{"orient":"none","legendX":20,"legendY":3,"title":null,"symbolType":"M-3,0H3","symbolSize":256,"symbolStrokeWidth":1.5,"labelFontSize":20,"labelFontWeight":"bold","labelColor":"#111","labelOffset":23,"rowPadding":6}}}},
{"data":{"values":[{"x":464,"y":25.3,"y2":72.1},{"x":563,"y":13.2,"y2":33.4},{"x":660,"y":17,"y2":43}]},"mark":{"type":"rule","strokeDash":[3,3],"color":"#333","strokeWidth":1.2},"encoding":{"y2":{"field":"y2"}}},
{"data":{"values":[{"x":427,"y":68.8,"t":"463"},{"x":569,"y":41.6,"t":"Pt-O-Ce"},{"x":564,"y":35.3,"t":"557"},{"x":664,"y":51.8,"t":"Pt-O"},{"x":661,"y":45.6,"t":"660"}]},"mark":{"type":"text","align":"center","baseline":"middle","fontSize":17,"fontWeight":"bold","color":"#111"},"encoding":{"text":{"field":"t"}}},
{"data":{"values":[{"x":472,"y":68.8,"t":"CeO"},{"x":562,"y":68.8,"t":"F"}]},"mark":{"type":"text","align":"left","baseline":"middle","fontSize":17,"fontWeight":"bold","color":"#111"},"encoding":{"text":{"field":"t"}}},
{"data":{"values":[{"x":540,"y":68.8,"t":"2"},{"x":583,"y":68.8,"t":"2g"}]},"mark":{"type":"text","align":"left","baseline":"middle","fontSize":12,"fontWeight":"bold","dy":6,"color":"#111"},"encoding":{"text":{"field":"t"}}},
{"data":{"values":[{"x":263.5,"y":95.6,"t":"d)"}]},"mark":{"type":"text","align":"center","baseline":"middle","fontSize":26,"fontWeight":"bold","color":"#111"},"encoding":{"text":{"field":"t"}}}
]}
],"spacing":10,"resolve":{"scale":{"color":"independent"},"legend":{"color":"independent"}}}
],
"spacing":17,
"resolve":{"scale":{"color":"independent"},"legend":{"color":"independent"}}
}
